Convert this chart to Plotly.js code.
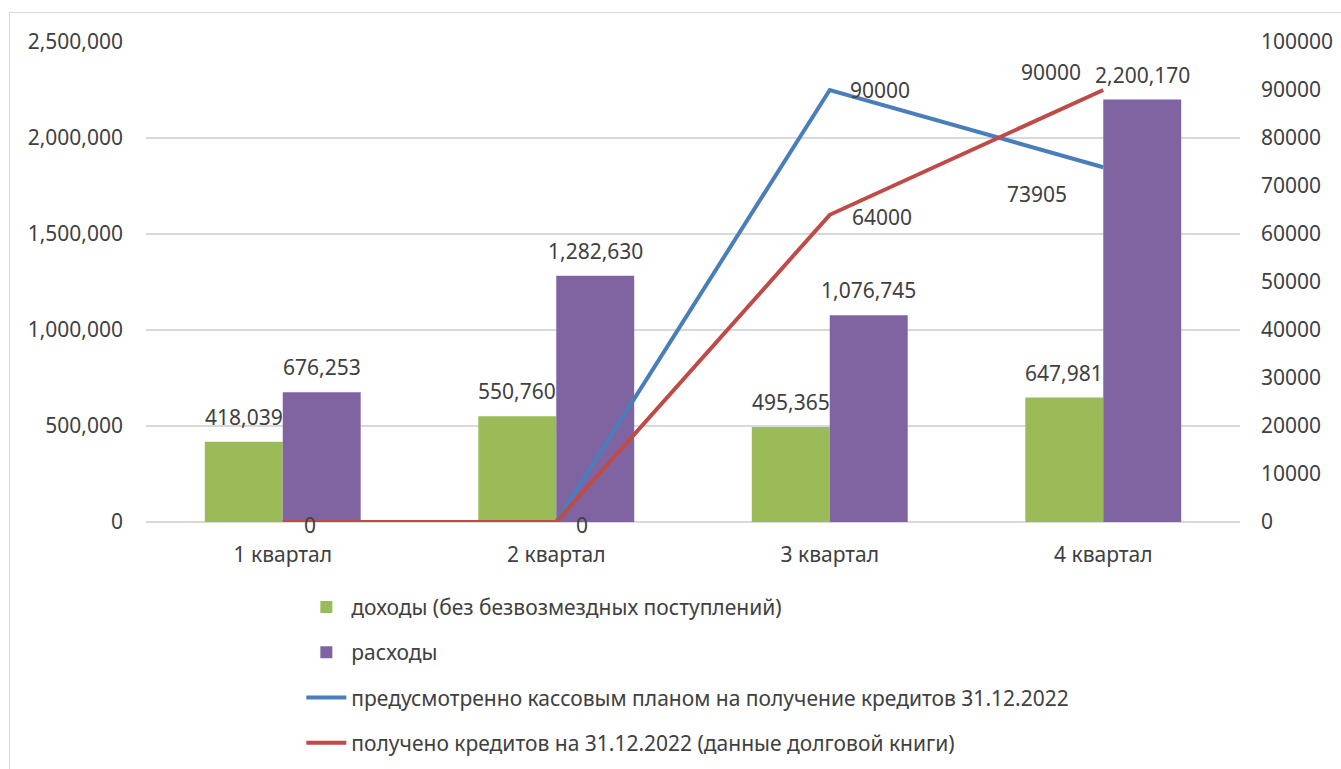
<!DOCTYPE html>
<html>
<head>
<meta charset="utf-8">
<script src="https://cdn.plot.ly/plotly-3.0.1.min.js"></script>
<style>
  html, body { margin: 0; padding: 0; background: #ffffff; overflow: hidden; }
  #frame { position: absolute; left: 9px; top: 12px; width: 1340px; height: 765px; border: 1px solid #d9d9d9; }
  #chart { position: absolute; left: 0; top: 0; width: 1341px; height: 769px; }
</style>
</head>
<body>
<div id="frame"></div>
<div id="chart"></div>
<script>
  const quarters = ['1 квартал', '2 квартал', '3 квартал', '4 квартал'];
  const income = [418039, 550760, 495365, 647981];
  const expenses = [676253, 1282630, 1076745, 2200170];
  const planned = [0, 0, 90000, 73905];
  const received = [0, 0, 64000, 90000];
  const plannedLabels = ['', '', '90000', '73905'];
  const receivedLabels = ['0', '0', '64000', '90000'];

  const COLORS = {
    income: '#9bbb59',
    expenses: '#8064a2',
    planned: '#4a7ebb',
    received: '#be4b48',
    text: '#404040',
    grid: '#d9d9d9'
  };
  const FONT = 'Noto Sans, Open Sans, sans-serif';
  const SIZE = 21;

  const MARGIN = { l: 146, r: 101, t: 42, b: 247 };
  const WIDTH = 1341;
  const BARGAP = 0.43;
  // half a bar, in px: the offset of each bar's centre from the category centre
  const barShift = ((WIDTH - MARGIN.l - MARGIN.r) / quarters.length) * (1 - BARGAP) / 4;

  // label offsets (px) for the line labels, per point
  const plannedShift = [[0, 0], [0, 0], [50, 0], [-66, -27]];
  const receivedShift = [[27, -3], [26, -3], [52, -2], [-52, 18]];

  function barTrace(name, values, color, group) {
    return {
      type: 'bar',
      name,
      x: quarters,
      y: values,
      marker: { color },
      legendgroup: group,
      hoverinfo: 'skip'
    };
  }

  function lineTrace(name, values, color, group) {
    return {
      type: 'scatter',
      mode: 'lines',
      name,
      x: quarters,
      y: values,
      yaxis: 'y2',
      line: { color, width: 4 },
      cliponaxis: false,
      legendgroup: group,
      hoverinfo: 'skip'
    };
  }

  function barLabels(values, side) {
    return values.map((value, i) => ({
      x: quarters[i],
      y: value,
      xref: 'x',
      yref: 'y',
      xshift: side * barShift,
      yshift: 25,
      text: value.toLocaleString('en-US'),
      showarrow: false,
      font: { family: FONT, size: SIZE, color: COLORS.text }
    }));
  }

  function lineLabels(values, labels, shifts) {
    return values.map((value, i) => ({
      x: quarters[i],
      y: value,
      xref: 'x',
      yref: 'y2',
      xshift: shifts[i][0],
      yshift: shifts[i][1],
      text: labels[i],
      showarrow: false,
      font: { family: FONT, size: SIZE, color: COLORS.text }
    })).filter((a) => a.text !== '');
  }

  const traces = [
    barTrace('доходы (без безвозмездных поступлений)', income, COLORS.income, 'g1'),
    barTrace('расходы', expenses, COLORS.expenses, 'g2'),
    lineTrace('предусмотренно кассовым планом на получение кредитов 31.12.2022', planned, COLORS.planned, 'g3'),
    lineTrace('получено кредитов на 31.12.2022 (данные долговой книги)', received, COLORS.received, 'g4')
  ];

  const annotations = [
    ...barLabels(income, -1),
    ...barLabels(expenses, 1),
    ...lineLabels(planned, plannedLabels, plannedShift),
    ...lineLabels(received, receivedLabels, receivedShift)
  ];

  const layout = {
    width: WIDTH,
    height: 769,
    paper_bgcolor: 'rgba(0,0,0,0)',
    plot_bgcolor: 'rgba(0,0,0,0)',
    font: { family: FONT, size: SIZE, color: COLORS.text },
    margin: { ...MARGIN, autoexpand: false },
    barmode: 'group',
    bargap: BARGAP,
    bargroupgap: 0,
    showlegend: true,
    annotations,
    legend: {
      orientation: 'v',
      x: 0.142,
      xanchor: 'left',
      y: -0.135,
      yanchor: 'top',
      traceorder: 'grouped',
      tracegroupgap: 15,
      itemwidth: 40,
      font: { family: FONT, size: SIZE, color: COLORS.text },
      bgcolor: 'rgba(0,0,0,0)'
    },
    xaxis: {
      type: 'category',
      showgrid: false,
      showline: false,
      ticks: '',
      ticklabelstandoff: 18,
      tickfont: { family: FONT, size: SIZE, color: COLORS.text }
    },
    yaxis: {
      range: [0, 2500000],
      tick0: 0,
      dtick: 500000,
      tickformat: ',',
      gridcolor: COLORS.grid,
      gridwidth: 2,
      zeroline: true,
      zerolinecolor: COLORS.grid,
      zerolinewidth: 2,
      showline: false,
      ticks: '',
      ticklabelstandoff: 22,
      tickfont: { family: FONT, size: SIZE, color: COLORS.text }
    },
    yaxis2: {
      overlaying: 'y',
      side: 'right',
      range: [0, 100000],
      tick0: 0,
      dtick: 10000,
      tickformat: 'd',
      showgrid: false,
      zeroline: false,
      showline: false,
      ticks: '',
      ticklabelstandoff: 20,
      tickfont: { family: FONT, size: SIZE, color: COLORS.text }
    }
  };

  Plotly.newPlot('chart', traces, layout, { staticPlot: true, displayModeBar: false });
</script>
</body>
</html>
